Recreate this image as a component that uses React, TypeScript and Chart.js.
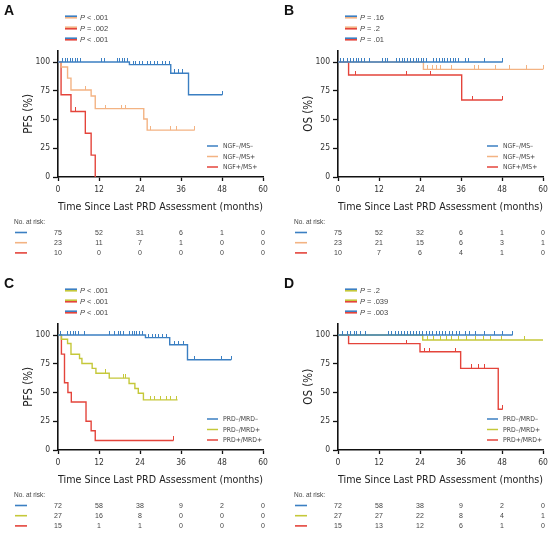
import React, { useEffect, useRef } from "react";
import { Chart, registerables } from "chart.js";

Chart.register(...registerables);

// ---------- colours ----------
const BLUE = "#3b7fc2";
const ORANGE = "#f3b383";
const RED = "#e4443b";
const LIME = "#c5c83a";

// ---------- shared axes ----------
const monthTicks = [0, 12, 24, 36, 48, 60];
const percentTicks = [0, 25, 50, 75, 100];
const xTitle = "Time Since Last PRD Assessment (months)";

// ---------- Panel A (PFS, NGF/MS) ----------
const aBlueDropX = [20.9, 33, 38.2];
const aBlueDropY = [97.7, 90.2, 71.5];
const aBlueCensor = [1.3, 2.1, 2.9, 3.6, 4.2, 5, 5.8, 6.5, 12.8, 13.6, 17.3, 18, 18.8, 19.6, 20.2, 22, 22.8, 23.8, 24.8, 26.2, 27.2, 28.2, 29.2, 30.5, 31.6, 32.5, 34.2, 35.2, 36.4, 48.1];
const aBlueEnd = 48.1;
const aOrangeDropX = [0.9, 2.8, 3.8, 9.7, 10.9, 25.1, 26.1];
const aOrangeDropY = [95.7, 86, 75.7, 70.5, 59.5, 50.5, 40.8];
const aOrangeCensor = [8, 14, 18.7, 19.7, 27.1, 33, 34.7, 40];
const aOrangeEnd = 40;
const aRedDropX = [0.9, 3.8, 8, 9.7, 10.9];
const aRedDropY = [71.5, 57, 38, 19, 0];
const aRedCensor = [5];
const aRedEnd = 10.9;
const aPValues = ["< .001", "= .002", "< .001"];
const aRiskBlue = [75, 52, 31, 6, 1, 0];
const aRiskOrange = [23, 11, 7, 1, 0, 0];
const aRiskRed = [10, 0, 0, 0, 0, 0];

// ---------- Panel B (OS, NGF/MS) ----------
const bBlueDropX: number[] = [];
const bBlueDropY: number[] = [];
const bBlueCensor = [0.7, 1.7, 2.9, 3.6, 4.4, 5.3, 6.1, 7, 7.8, 9.2, 13.1, 13.8, 14.6, 17, 18, 18.8, 19.6, 20.3, 21.1, 22.1, 22.9, 23.5, 24.3, 25, 25.8, 27.9, 28.7, 29.7, 30.5, 31.3, 32.1, 33, 33.8, 34.5, 35.4, 37.2, 38.1, 43, 48.2];
const bBlueEnd = 48.2;
const bOrangeDropX = [25];
const bOrangeDropY = [93.6];
const bOrangeCensor = [26.2, 27.7, 28.7, 30, 33.3, 40, 41, 46.1, 50.3, 55.2, 60];
const bOrangeEnd = 60;
const bRedDropX = [3.1, 36.2];
const bRedDropY = [88.7, 67];
const bRedCensor = [5, 20, 27, 39.4, 48.1];
const bRedEnd = 48.1;
const bPValues = ["= .16", "= .2", "= .01"];
const bRiskBlue = [75, 52, 32, 6, 1, 0];
const bRiskOrange = [23, 21, 15, 6, 3, 1];
const bRiskRed = [10, 7, 6, 4, 1, 0];

// ---------- Panel C (PFS, PRD/MRD) ----------
const cBlueDropX = [25.6, 32.7, 37.9];
const cBlueDropY = [97.7, 91.5, 78.5];
const cBlueCensor = [0.7, 2.9, 3.7, 4.4, 5.2, 5.9, 7.8, 15.1, 16.6, 17.6, 18.2, 19.2, 21, 21.7, 22.4, 23.1, 23.9, 24.6, 26.6, 27.6, 28.6, 29.5, 30.5, 31.7, 34.1, 35.4, 36.6, 40, 47.8, 50.7];
const cBlueEnd = 50.7;
const cLimeDropX = [1, 2.8, 3.8, 6.3, 7, 10, 11.1, 15, 20.8, 22.5, 23.5, 25];
const cLimeDropY = [96.3, 92.6, 83.3, 79.6, 75.2, 71, 66.8, 62.5, 57.8, 53.5, 49.3, 43.6];
const cLimeCensor = [14, 19.1, 19.8, 27, 28.3, 30, 31.7, 33, 34.6];
const cLimeEnd = 35;
const cRedDropX = [1, 1.9, 2.9, 3.9, 8.2, 9.7, 10.9];
const cRedDropY = [83.4, 58.5, 50, 41.7, 25, 16.7, 8.3];
const cRedCensor = [33.8];
const cRedEnd = 33.8;
const cPValues = ["< .001", "< .001", "< .001"];
const cRiskBlue = [72, 58, 38, 9, 2, 0];
const cRiskLime = [27, 16, 8, 0, 0, 0];
const cRiskRed = [15, 1, 1, 0, 0, 0];

// ---------- Panel D (OS, PRD/MRD) ----------
const dBlueDropX: number[] = [];
const dBlueDropY: number[] = [];
const dBlueCensor = [1.2, 2.9, 3.8, 4.8, 5.5, 6.5, 8, 14.8, 15.8, 16.9, 17.7, 18.5, 19.5, 20.3, 21.1, 22.1, 22.9, 23.8, 24.8, 25.8, 26.8, 27.7, 28.7, 29.7, 30.5, 31.6, 32.6, 33.6, 34.7, 35.7, 37.2, 38.4, 40.1, 43, 45.9, 48.2, 51.1];
const dBlueEnd = 51.1;
const dLimeDropX = [24.8];
const dLimeDropY = [95.7];
const dLimeCensor = [26.2, 27.9, 29.9, 31.8, 33.3, 35.2, 37.6, 40.1, 42.5, 44.5, 47.9, 54.7];
const dLimeEnd = 60;
const dRedDropX = [3.1, 24, 35.9, 46.9];
const dRedDropY = [92.5, 85.5, 71, 35.5];
const dRedCensor = [20, 25.4, 26.9, 34.3, 39, 41, 42.9, 48.2];
const dRedEnd = 48.2;
const dPValues = ["= .2", "= .039", "= .003"];
const dRiskBlue = [72, 58, 38, 9, 2, 0];
const dRiskLime = [27, 27, 22, 8, 4, 1];
const dRiskRed = [15, 13, 12, 6, 1, 0];

// ---------- fonts ----------
const NARROW = '"Liberation Sans Narrow", "Arial Narrow", "DejaVu Sans Condensed", "Liberation Sans", Arial, sans-serif';
const SANS = '"Liberation Sans", Arial, sans-serif';

type Curve = {
  label: string;
  color: string;
  dropX: number[];
  dropY: number[];
  censor: number[];
  end: number;
  risk: number[];
};

type PanelCfg = {
  letter: string;
  yTitle: string;
  pValues: string[];
  pPairs: [string, string][];
  curves: Curve[];
};

const panels: PanelCfg[] = [
  {
    letter: "A",
    yTitle: "PFS (%)",
    pValues: aPValues,
    pPairs: [[BLUE, ORANGE], [ORANGE, RED], [BLUE, RED]],
    curves: [
      { label: "NGF\u2013/MS\u2013", color: BLUE, dropX: aBlueDropX, dropY: aBlueDropY, censor: aBlueCensor, end: aBlueEnd, risk: aRiskBlue },
      { label: "NGF\u2013/MS+", color: ORANGE, dropX: aOrangeDropX, dropY: aOrangeDropY, censor: aOrangeCensor, end: aOrangeEnd, risk: aRiskOrange },
      { label: "NGF+/MS+", color: RED, dropX: aRedDropX, dropY: aRedDropY, censor: aRedCensor, end: aRedEnd, risk: aRiskRed },
    ],
  },
  {
    letter: "B",
    yTitle: "OS (%)",
    pValues: bPValues,
    pPairs: [[BLUE, ORANGE], [ORANGE, RED], [BLUE, RED]],
    curves: [
      { label: "NGF\u2013/MS\u2013", color: BLUE, dropX: bBlueDropX, dropY: bBlueDropY, censor: bBlueCensor, end: bBlueEnd, risk: bRiskBlue },
      { label: "NGF\u2013/MS+", color: ORANGE, dropX: bOrangeDropX, dropY: bOrangeDropY, censor: bOrangeCensor, end: bOrangeEnd, risk: bRiskOrange },
      { label: "NGF+/MS+", color: RED, dropX: bRedDropX, dropY: bRedDropY, censor: bRedCensor, end: bRedEnd, risk: bRiskRed },
    ],
  },
  {
    letter: "C",
    yTitle: "PFS (%)",
    pValues: cPValues,
    pPairs: [[BLUE, LIME], [LIME, RED], [BLUE, RED]],
    curves: [
      { label: "PRD\u2013/MRD\u2013", color: BLUE, dropX: cBlueDropX, dropY: cBlueDropY, censor: cBlueCensor, end: cBlueEnd, risk: cRiskBlue },
      { label: "PRD\u2013/MRD+", color: LIME, dropX: cLimeDropX, dropY: cLimeDropY, censor: cLimeCensor, end: cLimeEnd, risk: cRiskLime },
      { label: "PRD+/MRD+", color: RED, dropX: cRedDropX, dropY: cRedDropY, censor: cRedCensor, end: cRedEnd, risk: cRiskRed },
    ],
  },
  {
    letter: "D",
    yTitle: "OS (%)",
    pValues: dPValues,
    pPairs: [[BLUE, LIME], [LIME, RED], [BLUE, RED]],
    curves: [
      { label: "PRD\u2013/MRD\u2013", color: BLUE, dropX: dBlueDropX, dropY: dBlueDropY, censor: dBlueCensor, end: dBlueEnd, risk: dRiskBlue },
      { label: "PRD\u2013/MRD+", color: LIME, dropX: dLimeDropX, dropY: dLimeDropY, censor: dLimeCensor, end: dLimeEnd, risk: dRiskLime },
      { label: "PRD+/MRD+", color: RED, dropX: dRedDropX, dropY: dRedDropY, censor: dRedCensor, end: dRedEnd, risk: dRiskRed },
    ],
  },
];

type Pt = { x: number; y: number; c: boolean };

function buildPoints(cv: Curve): Pt[] {
  const ev: { x: number; y?: number; drop: boolean }[] = [];
  cv.dropX.forEach((x, i) => ev.push({ x, y: cv.dropY[i], drop: true }));
  cv.censor.forEach((x) => ev.push({ x, drop: false }));
  ev.sort((a, b) => a.x - b.x || (a.drop ? -1 : 1));
  const pts: Pt[] = [{ x: 0, y: 100, c: false }];
  let cur = 100;
  ev.forEach((e) => {
    if (e.drop) {
      cur = e.y as number;
      pts.push({ x: e.x, y: cur, c: false });
    } else {
      pts.push({ x: e.x, y: cur, c: true });
    }
  });
  if (pts[pts.length - 1].x < cv.end) pts.push({ x: cv.end, y: cur, c: false });
  return pts;
}

function censorMark(color: string): HTMLCanvasElement {
  const c = document.createElement("canvas");
  c.width = 1;
  c.height = 8;
  const g = c.getContext("2d")!;
  g.fillStyle = color;
  g.fillRect(0, 0, 1, 4);
  return c;
}

const annotPlugin = {
  id: "kmAnnot",
  afterDraw(chart: any, _args: any, opts: any) {
    const cfg: PanelCfg = opts.cfg;
    const { ctx, chartArea, scales } = chart;
    const ca = chartArea;
    ctx.save();
    // Panel letter
    ctx.fillStyle = "#111";
    ctx.font = `bold 14px ${SANS}`;
    ctx.textAlign = "left";
    ctx.textBaseline = "alphabetic";
    ctx.fillText(cfg.letter, 4, 15);

    // P-value key
    const pRows = [17, 28, 39];
    cfg.pPairs.forEach((pair, i) => {
      const y = pRows[i];
      ctx.lineWidth = 1.6;
      ctx.strokeStyle = pair[0];
      ctx.beginPath();
      ctx.moveTo(65, y - 0.8);
      ctx.lineTo(77, y - 0.8);
      ctx.stroke();
      ctx.strokeStyle = pair[1];
      ctx.beginPath();
      ctx.moveTo(65, y + 0.8);
      ctx.lineTo(77, y + 0.8);
      ctx.stroke();
      ctx.fillStyle = "#444";
      ctx.textBaseline = "middle";
      ctx.font = `italic 7.5px ${SANS}`;
      ctx.fillText("P", 80, y + 0.5);
      const w = ctx.measureText("P").width;
      ctx.font = `7.5px ${SANS}`;
      ctx.fillText(" " + cfg.pValues[i], 80 + w, y + 0.5);
    });

    // Curve key (bottom right)
    cfg.curves.forEach((cv, i) => {
      const y = ca.bottom - 31 + i * 10.5;
      ctx.strokeStyle = cv.color;
      ctx.lineWidth = 1.5;
      ctx.beginPath();
      ctx.moveTo(ca.right - 56, y);
      ctx.lineTo(ca.right - 45, y);
      ctx.stroke();
      ctx.fillStyle = "#444";
      ctx.font = `6.8px ${NARROW}`;
      ctx.textBaseline = "middle";
      ctx.textAlign = "left";
      ctx.fillText(cv.label, ca.right - 40, y + 0.5);
    });

    // Number at risk table
    const xs = scales.x;
    ctx.fillStyle = "#444";
    ctx.font = `6.5px ${SANS}`;
    ctx.textAlign = "left";
    ctx.textBaseline = "middle";
    ctx.fillText("No. at risk:", 14, ca.bottom + 45);
    cfg.curves.forEach((cv, i) => {
      const y = ca.bottom + 55.5 + i * 10.2;
      ctx.strokeStyle = cv.color;
      ctx.lineWidth = 1.6;
      ctx.beginPath();
      ctx.moveTo(15, y);
      ctx.lineTo(27, y);
      ctx.stroke();
      ctx.fillStyle = "#444";
      ctx.font = `7px ${SANS}`;
      ctx.textAlign = "center";
      cv.risk.forEach((n, j) => {
        ctx.fillText(String(n), xs.getPixelForValue(monthTicks[j]), y + 0.5);
      });
    });
    ctx.restore();
  },
};

function Panel({ cfg, left, top, width, height }: { cfg: PanelCfg; left: number; top: number; width: number; height: number }) {
  const ref = useRef<HTMLCanvasElement>(null);
  useEffect(() => {
    const canvas = ref.current!;
    const padRight = width - 205 - 58;
    const chart = new Chart(canvas, {
      type: "line",
      data: {
        datasets: cfg.curves.map((cv) => ({
          label: cv.label,
          data: buildPoints(cv) as any,
          borderColor: cv.color,
          backgroundColor: cv.color,
          borderWidth: 1.4,
          stepped: "before" as const,
          fill: false,
          tension: 0,
          clip: 8,
          pointStyle: censorMark(cv.color) as any,
          pointRadius: (c: any) => (c.raw && c.raw.c ? 3 : 0),
          pointHoverRadius: 0,
          pointBorderWidth: 0,
        })),
      },
      options: {
        animation: false,
        responsive: false,
        devicePixelRatio: 1,
        events: [],
        layout: { padding: { left: 0, right: padRight, top: 50.5, bottom: height - 177 - 37 } },
        plugins: {
          legend: { display: false },
          tooltip: { enabled: false },
          kmAnnot: { cfg },
        } as any,
        scales: {
          x: {
            type: "linear",
            min: 0,
            max: 60,
            afterBuildTicks: (s: any) => {
              s.ticks = monthTicks.map((v) => ({ value: v }));
            },
            afterFit: (s: any) => {
              s.height = 37;
            },
            grid: { display: true, drawOnChartArea: false, drawTicks: true, tickLength: 4, tickColor: "#111", tickWidth: 1.3 },
            border: { display: true, color: "#111", width: 1.6 },
            ticks: { autoSkip: false, maxRotation: 0, padding: 4, color: "#333", font: { size: 8.5, family: NARROW } },
            title: { display: true, text: xTitle, color: "#222", font: { size: 11.3, family: NARROW }, padding: { top: 0, bottom: 0 } },
          },
          y: {
            type: "linear",
            min: 0,
            max: 110,
            afterBuildTicks: (s: any) => {
              s.ticks = percentTicks.map((v) => ({ value: v }));
            },
            afterFit: (s: any) => {
              s.width = 58;
            },
            grid: { display: true, drawOnChartArea: false, drawTicks: true, tickLength: 5, tickColor: "#111", tickWidth: 1.3 },
            border: { display: true, color: "#111", width: 1.6 },
            ticks: { padding: 3, color: "#333", font: { size: 8.5, family: NARROW } },
            title: { display: true, text: cfg.yTitle, color: "#222", font: { size: 11.5, family: NARROW }, padding: { top: 22, bottom: 0 } },
          },
        },
      } as any,
      plugins: [annotPlugin],
    });
    return () => chart.destroy();
  }, [cfg, width, height]);
  return (
    <canvas
      ref={ref}
      width={width}
      height={height}
      style={{ position: "absolute", left, top, width, height, display: "block" }}
    />
  );
}

export default function App() {
  return (
    <div style={{ position: "fixed", left: 0, top: 0, width: 554, height: 535, background: "#fff", overflow: "hidden" }}>
      <Panel cfg={panels[0]} left={0} top={0} width={277} height={273} />
      <Panel cfg={panels[1]} left={280} top={0} width={274} height={273} />
      <Panel cfg={panels[2]} left={0} top={273} width={277} height={262} />
      <Panel cfg={panels[3]} left={280} top={273} width={274} height={262} />
    </div>
  );
}
